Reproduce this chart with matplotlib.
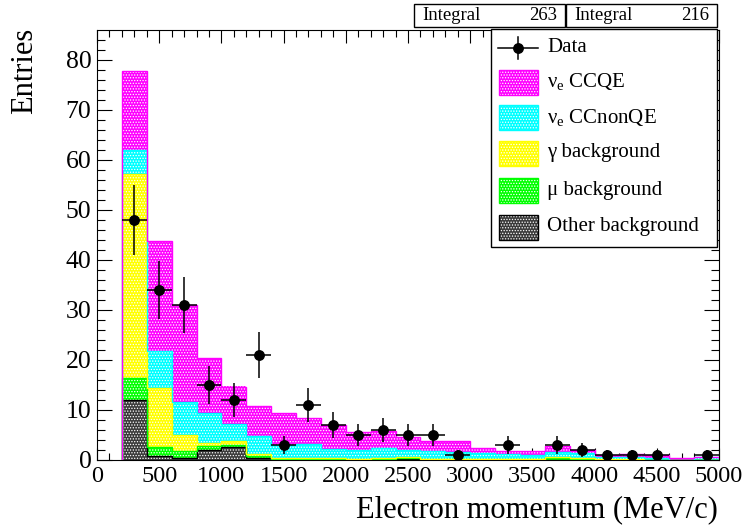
#!/usr/bin/env python3

import numpy as np
import matplotlib
matplotlib.use('Agg')
import matplotlib.pyplot as plt
import matplotlib.patches as patches
from matplotlib.transforms import Affine2D

plt.rcParams['font.family'] = ['Liberation Serif', 'DejaVu Serif']
plt.rcParams['mathtext.fontset'] = 'custom'
plt.rcParams['mathtext.rm'] = 'Liberation Serif'
plt.rcParams['mathtext.it'] = 'Liberation Serif:italic'
plt.rcParams['hatch.linewidth'] = 0.6

# binning (MeV/c)
edges = np.arange(200, 5001, 200)

# stacked MC components (entries per bin)
other = [12.1, 0.9, 0.4, 2.0, 2.6, 0.5, 0.1, 0.1, 0.1, 0.1, 0.1, 0.2,
         0.1, 0.1, 0.1, 0.1, 0.1, 0.1, 0.1, 0.0, 0.0, 0.0, 0.0, 0.0]
mu_bg = [4.4, 1.7, 1.5, 0.8, 0.5, 0.3, 0.1, 0.2, 0.2, 0.1, 0.2, 0.3,
         0.1, 0.1, 0.1, 0.1, 0.1, 0.4, 0.2, 0.1, 0.1, 0.1, 0.0, 0.1]
gamma_bg = [40.8, 11.9, 3.1, 0.6, 0.7, 0.4, 0.2, 0.1, 0.1, 0.1, 0.1, 0.1,
            0.1, 0.1, 0.1, 0.1, 0.1, 0.1, 0.1, 0.1, 0.1, 0.0, 0.0, 0.0]
ccnonqe = [4.8, 7.4, 6.7, 6.1, 3.5, 3.7, 2.6, 2.9, 1.9, 1.8, 2.1, 1.4,
           1.5, 1.4, 1.2, 0.9, 0.7, 1.1, 1.1, 0.4, 0.4, 0.4, 0.05, 0.5]
ccqe = [15.8, 21.9, 19.3, 11.0, 7.4, 6.0, 6.4, 5.1, 4.8, 3.6, 3.3, 2.6,
        2.1, 2.1, 1.0, 0.7, 0.9, 1.2, 0.5, 0.4, 0.7, 0.5, 0.3, 0.1]

# data
data = [48, 34, 31, 15, 12, 21, 3, 11, 7, 5, 6, 5,
        5, 1, 0, 3, 0, 3, 2, 1, 1, 1, 0, 1]

layers = [other, mu_bg, gamma_bg, ccnonqe, ccqe]
fills = ['#3a3a3a', '#00ff00', '#ffff00', '#00ffff', '#ff00ff']
lines = ['black', '#00ff00', '#ffff00', '#00ffff', '#ff00ff']
names = ['Other background', '\u03bc background', '\u03b3 background',
         '\u03bd$_\\mathrm{e}$ CCnonQE', '\u03bd$_\\mathrm{e}$ CCQE']

W, H = 743, 525
fig = plt.figure(figsize=(W / 100, H / 100), dpi=100)
ax = fig.add_axes([97 / W, 1 - 460 / H, 622 / W, 430 / H])

centers = 0.5 * (edges[:-1] + edges[1:])
bottom = np.zeros(len(centers))
for vals, fc, lc in zip(layers, fills, lines):
    vals = np.array(vals, float)
    ax.bar(centers, vals, width=200, bottom=bottom, color=fc,
           edgecolor='white', linewidth=0, hatch='......', zorder=2)
    bottom = bottom + vals
    ax.stairs(bottom, edges, color=lc, lw=1.0, zorder=3)

d = np.array(data, float)
m = d > 0
ax.errorbar(centers[m], d[m], xerr=100, yerr=np.sqrt(d[m]), fmt='o',
            color='black', ms=6.8, elinewidth=1.1, capsize=0, zorder=5)

ax.set_xlim(0, 5000)
ax.set_ylim(0, 86)
ax.set_xticks(np.arange(0, 5001, 500))
ax.set_xticks(np.arange(0, 5001, 100), minor=True)
ax.set_yticks(np.arange(0, 81, 10))
ax.set_yticks(np.arange(0, 86, 2), minor=True)
ax.tick_params(which='both', direction='in', top=True, right=True,
               width=0.8)
ax.tick_params(axis='x', labelsize=17.5, pad=4)
ax.tick_params(axis='y', labelsize=18.5, pad=4)
ax.tick_params(axis='y', which='major', length=11)
ax.tick_params(axis='y', which='minor', length=6)
ax.tick_params(axis='x', which='major', length=9)
ax.tick_params(axis='x', which='minor', length=5)
for s in ax.spines.values():
    s.set_linewidth(0.8)

# pixel transform (origin at top left)
pix = Affine2D().scale(1 / W, -1 / H).translate(0, 1) + fig.transFigure

fig.text(718, 510, 'Electron momentum (MeV/c)', transform=pix,
         ha='right', va='center', fontsize=22)
fig.text(25, 28, 'Entries', transform=pix, rotation=90,
         ha='center', va='top', fontsize=22)

# stats boxes
integrals = [round(float(bottom.sum())), int(d.sum())]
for x0, val in zip([414, 566], integrals):
    fig.add_artist(patches.Rectangle((x0, 27), 151, -23, transform=pix,
                                     fc='white', ec='black', lw=1.0))
    fig.text(x0 + 8, 16, 'Integral', transform=pix, ha='left',
             va='center', fontsize=13.5)
    fig.text(x0 + 143, 16, '%d' % val, transform=pix, ha='right',
             va='center', fontsize=13.5)

# legend
fig.add_artist(patches.Rectangle((491, 247), 226, -218, transform=pix,
                                 fc='white', ec='black', lw=1.0, zorder=6))
fig.add_artist(plt.Line2D([498, 538], [48, 48], color='black', lw=1.1,
                          transform=pix, zorder=7))
fig.add_artist(plt.Line2D([518, 518], [37, 59], color='black', lw=1.1,
                          transform=pix, zorder=7))
fig.add_artist(plt.Line2D([518], [48], marker='o', ms=6.8, color='black',
                          transform=pix, zorder=7))
fig.text(547, 48, 'Data', transform=pix, ha='left', va='center',
         fontsize=15, zorder=7)
ys = [227, 190, 153, 117, 82]
for yc, fc, lc, nm in zip(ys, fills, lines, names):
    fig.add_artist(patches.Rectangle((499, yc + 12.5), 39, -25, transform=pix,
                                     fc=fc, ec='white', lw=0, hatch='......',
                                     zorder=7))
    fig.add_artist(patches.Rectangle((499, yc + 12.5), 39, -25, transform=pix,
                                     fill=False, ec=lc, lw=1.0, zorder=7))
    fig.text(547, yc, nm, transform=pix, ha='left', va='center',
             fontsize=15, zorder=7)

plt.savefig('out.png', dpi=100)
